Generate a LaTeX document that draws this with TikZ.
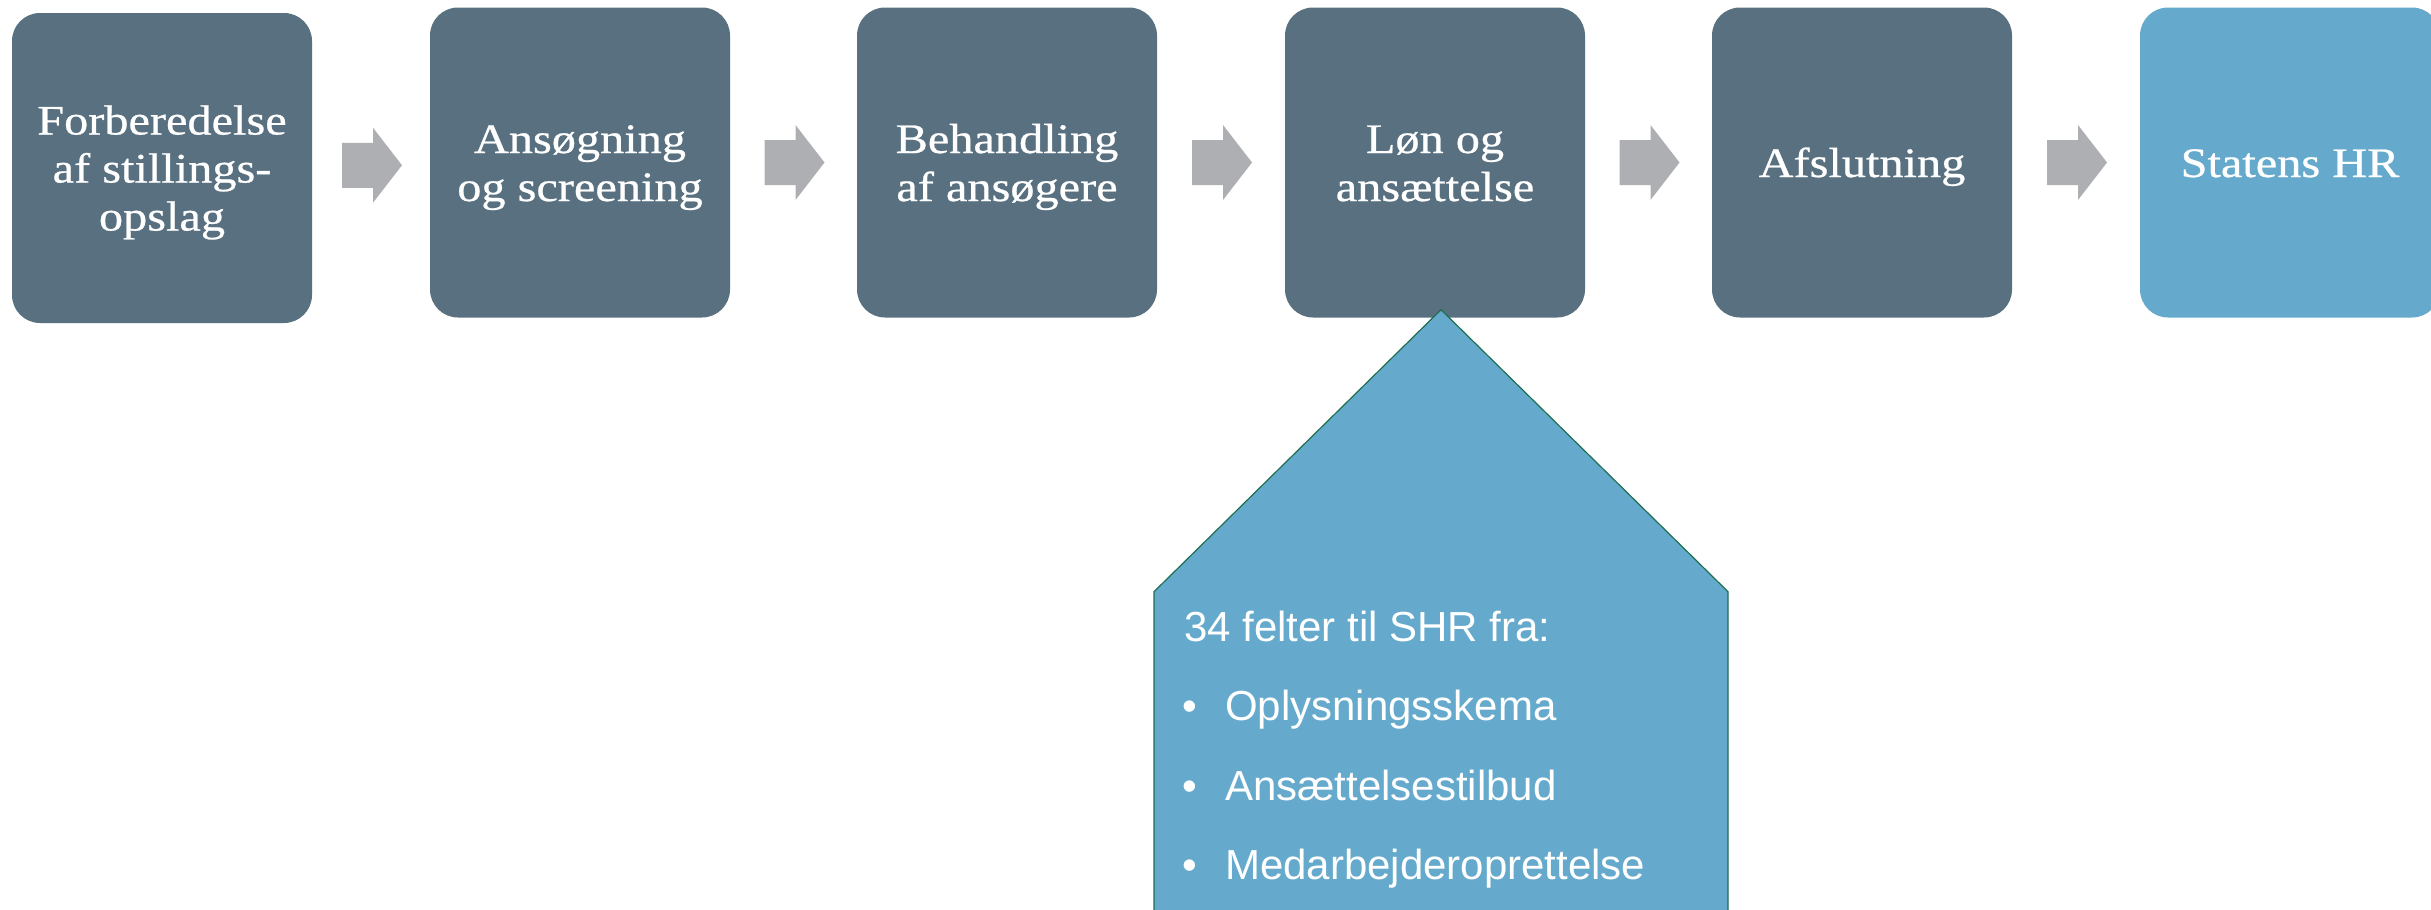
\documentclass[tikz,border=0pt]{standalone}
\usepackage{fontspec}
\usetikzlibrary{calc}
\newfontfamily\boxfont[FakeStretch=1.15,FakeBold=0.6]{Liberation Serif}
\newfontfamily\panelfont{Liberation Sans}
\newcommand\bst{\rule[-9.5pt]{0pt}{48pt}}
\definecolor{slate}{RGB}{88,112,127}
\definecolor{skyblue}{RGB}{101,170,204}
\definecolor{arrowgray}{RGB}{173,175,179}
\definecolor{edgegreen}{RGB}{30,110,80}
\tikzset{
  stepbox/.style={fill=slate, rounded corners=28pt, minimum width=300pt, minimum height=310pt,
    inner sep=0pt, text=white, align=center, font=\boxfont\fontsize{42}{48}\selectfont},
  hrbox/.style={stepbox, fill=skyblue},
  paneltext/.style={text=white, anchor=base west, inner sep=0pt, font=\panelfont\fontsize{42}{50}\selectfont},
  blockarrow/.style={fill=arrowgray}
}
\begin{document}
\begin{tikzpicture}[x=1pt,y=-1pt]
\useasboundingbox (0,0) rectangle (2431,910);
\clip (0,0) rectangle (2431,910);
\node[stepbox] (b1) at (162,168) {\bst Forberedelse\\\bst af stillings-\\\bst opslag};
\node[stepbox] (b2) at (580,162.5) {\bst Ansøgning\\\bst og screening};
\node[stepbox] (b3) at (1007,162.5) {\bst Behandling\\\bst af ansøgere};
\node[stepbox] (b4) at (1435,162.5) {\bst Løn og\\\bst ansættelse};
\node[stepbox] (b5) at (1862,162.5) {\bst Afslutning};
\node[hrbox] (b6) at (2290,162.5) {\bst Statens HR};
\foreach \a/\b in {b1/b2,b2/b3,b3/b4,b4/b5,b5/b6}{
  \coordinate (m\a) at ($(\a.east)!0.5!(\b.west)+(1,0)$);
  \fill[blockarrow] ([shift={(-30,-22.5)}]m\a) -- ++(31,0) -- ++(0,-15) -- ++(29,37.5)
     -- ++(-29,37.5) -- ++(0,-15) -- ++(-31,0) -- cycle;
}
\coordinate (apex) at ($(b4.south)+(6,-8)$);
\filldraw[fill=skyblue, draw=edgegreen, line width=1.2pt] (apex) -- ++(287,282) -- ++(0,400)
   -- ++(-574,0) -- ++(0,-400) -- cycle;
\node[paneltext] (t0) at (1184,641) {34 felter til SHR fra:};
\node[paneltext] (t1) at (1182,720) {\makebox[43pt][l]{•}Oplysningsskema};
\node[paneltext] (t2) at (1182,800) {\makebox[43pt][l]{•}Ansættelsestilbud};
\node[paneltext] (t3) at (1182,879) {\makebox[43pt][l]{•}Medarbejderoprettelse};
\end{tikzpicture}
\end{document}
